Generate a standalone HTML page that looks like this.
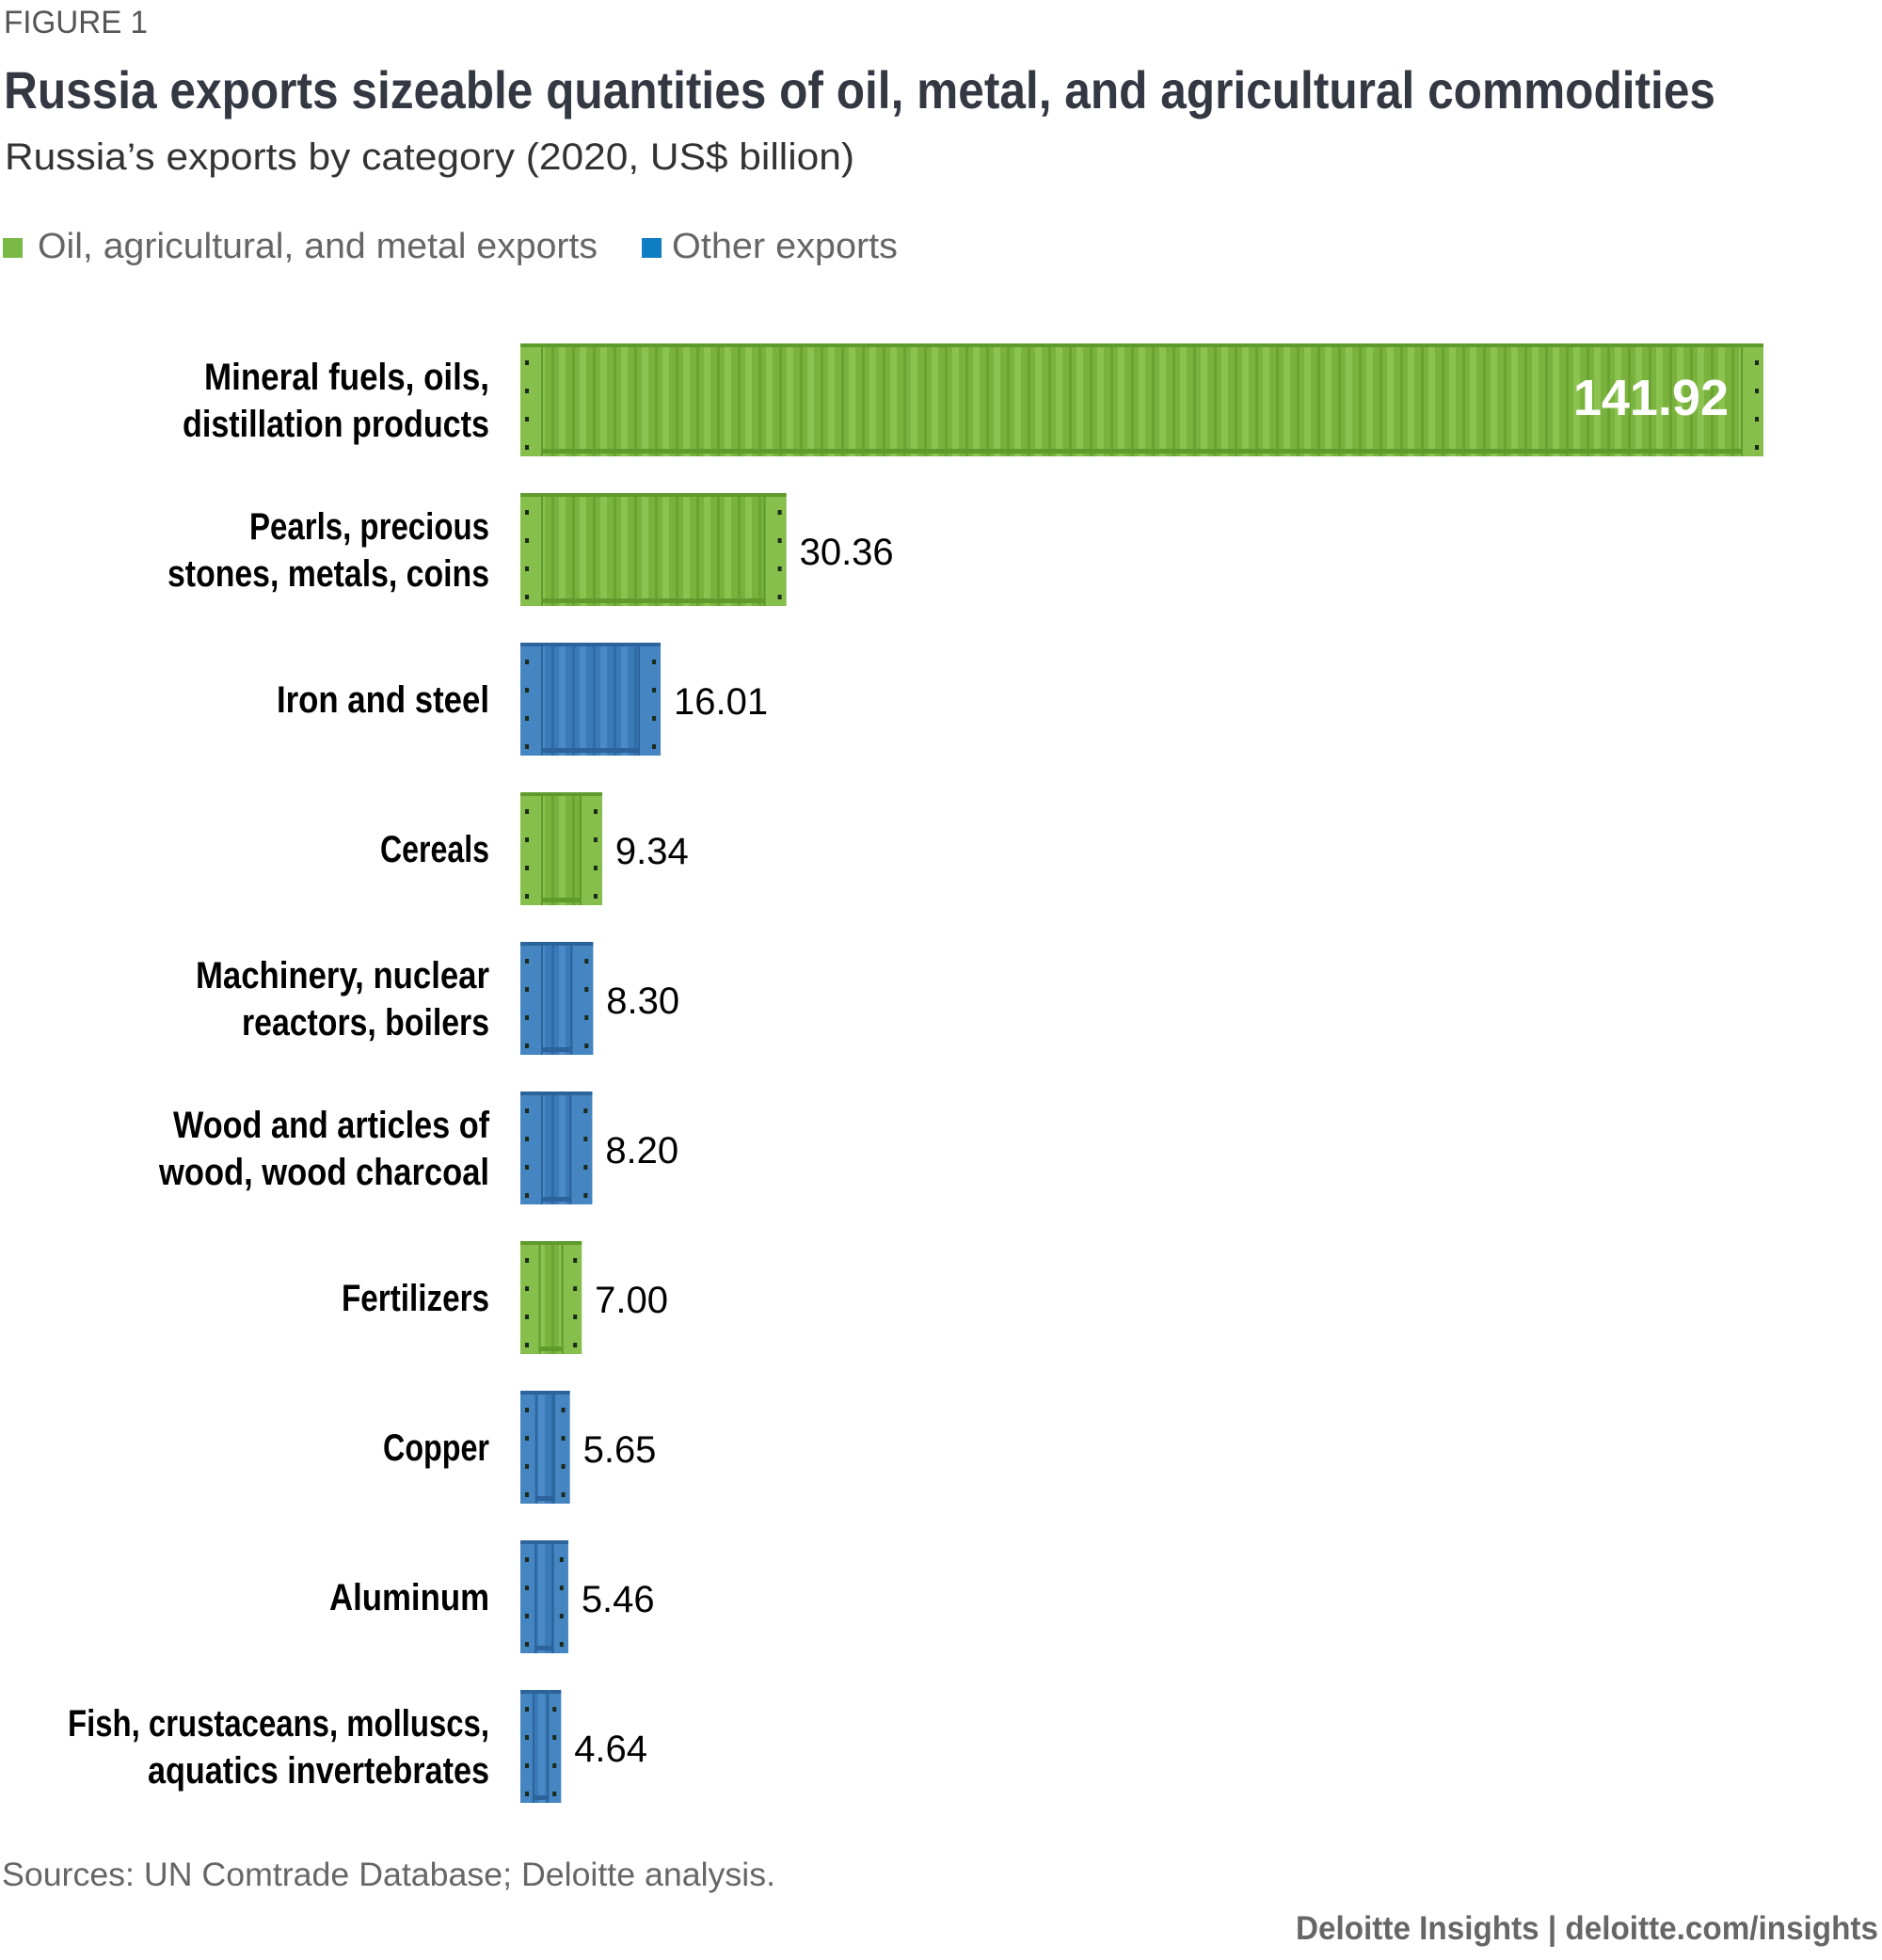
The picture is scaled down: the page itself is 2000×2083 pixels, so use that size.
<!DOCTYPE html>
<html><head><meta charset="utf-8"><style>
html,body{margin:0;padding:0;background:#fff;}
svg{display:block;font-family:"Liberation Sans",sans-serif;}
</style></head><body>
<svg id="chart" width="2000" height="2083" viewBox="0 0 2000 2083" xmlns="http://www.w3.org/2000/svg">
<defs>
<pattern id="ribG" width="22" height="10" patternUnits="userSpaceOnUse"><rect width="22" height="10" fill="#79b33e"/><rect x="0" width="7" height="10" fill="#8cc350"/><rect x="14" width="3" height="10" fill="#6aa332"/></pattern>
<pattern id="ribB" width="22" height="10" patternUnits="userSpaceOnUse"><rect width="22" height="10" fill="#3a7ab8"/><rect x="0" width="7" height="10" fill="#4a8ac6"/><rect x="14" width="3" height="10" fill="#2f6ca6"/></pattern>
</defs>
<text x="4" y="35" font-size="34" fill="#555" textLength="153" lengthAdjust="spacingAndGlyphs">FIGURE 1</text>
<text x="4" y="115" font-size="56" font-weight="bold" fill="#333842" textLength="1819" lengthAdjust="spacingAndGlyphs">Russia exports sizeable quantities of oil, metal, and agricultural commodities</text>
<text x="5" y="180" font-size="40" fill="#333" textLength="903" lengthAdjust="spacingAndGlyphs">Russia’s exports by category (2020, US$ billion)</text>
<g>
<rect x="3" y="253" width="21" height="21" fill="#7ab943"/>
<text x="40" y="274" font-size="38" fill="#666" textLength="595" lengthAdjust="spacingAndGlyphs">Oil, agricultural, and metal exports</text>
<rect x="682" y="253" width="21" height="21" fill="#0f7dc2"/>
<text x="714" y="274" font-size="38" fill="#666" textLength="240" lengthAdjust="spacingAndGlyphs">Other exports</text>
</g>
<g id="bars"></g>
<text x="2" y="2004" font-size="35" fill="#666" textLength="822" lengthAdjust="spacingAndGlyphs">Sources: UN Comtrade Database; Deloitte analysis.</text>
<text x="1996" y="2061" font-size="35" font-weight="bold" fill="#666" text-anchor="end" textLength="619" lengthAdjust="spacingAndGlyphs">Deloitte Insights | deloitte.com/insights</text>
</svg>
<script>
const categories = [["Mineral fuels, oils,","distillation products"],["Pearls, precious","stones, metals, coins"],["Iron and steel"],["Cereals"],["Machinery, nuclear","reactors, boilers"],["Wood and articles of","wood, wood charcoal"],["Fertilizers"],["Copper"],["Aluminum"],["Fish, crustaceans, molluscs,","aquatics invertebrates"]];
const values = [141.92,30.36,16.01,9.34,8.30,8.20,7.00,5.65,5.46,4.64];
const groups = ["green","green","blue","green","blue","blue","green","blue","blue","blue"];
const valueLabels = ["141.92","30.36","16.01","9.34","8.30","8.20","7.00","5.65","5.46","4.64"];
const labelWidths = [[303,326],[255,342],[226],[116],[312,263],[336,351],[157],[113],[170],[448,363]];

const NS = "http://www.w3.org/2000/svg";
const x0 = 553, pxPerUnit = 1321/141.92;
const xScale = v => v * pxPerUnit;
const rowTop = i => 365 + 159 * i;
const barH = 120;
const g = document.getElementById('bars');
function mk(tag, attrs){const e=document.createElementNS(NS,tag);for(const k in attrs)e.setAttribute(k,attrs[k]);return e;}
values.forEach((v,i)=>{
  const w = xScale(v), y = rowTop(i), green = groups[i]==="green";
  const dark = green ? "#5f9a2c" : "#2b639a";
  const frame = green ? "#86bf4c" : "#4585c2";
  const bg = mk('g',{});
  
  
  const body = mk('rect',{x:x0,y:y,width:w,height:barH,fill:green?"url(#ribG)":"url(#ribB)"});
  bg.appendChild(body);
  const fw = Math.min(22, w*0.3);
  bg.appendChild(mk('rect',{x:x0,y:y,width:fw,height:barH,fill:frame}));
  bg.appendChild(mk('rect',{x:x0+w-fw,y:y,width:fw,height:barH,fill:frame}));
  bg.appendChild(mk('rect',{x:x0+fw,y:y,width:2,height:barH,fill:dark}));
  bg.appendChild(mk('rect',{x:x0+w-fw-2,y:y,width:2,height:barH,fill:dark}));
  bg.appendChild(mk('rect',{x:x0,y:y,width:w,height:4,fill:dark}));
  bg.appendChild(mk('rect',{x:x0+fw,y:y+barH-8,width:Math.max(0,w-2*fw),height:5,fill:dark}));
  [0.15,0.4,0.65,0.9].forEach(f=>{
    bg.appendChild(mk('rect',{x:x0+5,y:y+barH*f,width:4,height:5,fill:"#1c2a1c"}));
    bg.appendChild(mk('rect',{x:x0+w-9,y:y+barH*f,width:4,height:5,fill:"#1c2a1c"}));
  });
  g.appendChild(bg);
  const cy = y + barH/2;
  const lines = categories[i];
  lines.forEach((ln,j)=>{
    const t = mk('text',{x:520,y:cy + (lines.length===2 ? (j===0?-25:25) : 0) + 14,'font-size':40,'font-weight':'bold','text-anchor':'end',fill:'#000',textLength:labelWidths[i][j],lengthAdjust:'spacingAndGlyphs'});
    
    
    t.textContent = ln;
    g.appendChild(t);
  });
  const inside = i===0;
  const vt = mk('text',{x: inside ? x0+w-37 : x0+w+14, y: cy+16, 'font-size': inside?54:40, 'font-weight': inside?'bold':'normal', 'text-anchor': inside?'end':'start', fill: inside?'#fff':'#000'});
  
  
  vt.textContent = valueLabels[i];
  g.appendChild(vt);
});
</script>
</body></html>
